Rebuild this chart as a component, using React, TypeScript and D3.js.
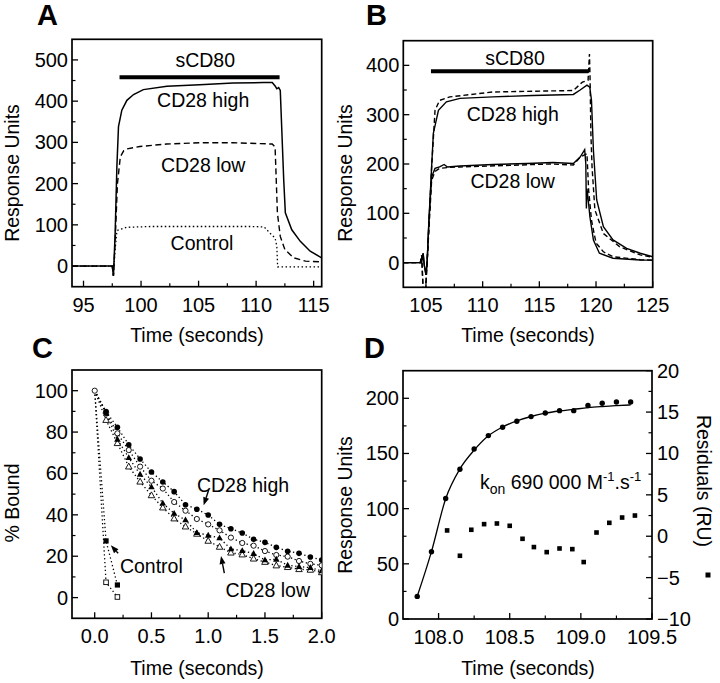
import React from 'react';
import * as d3 from 'd3';

const FONT = '"Liberation Sans", Arial, Helvetica, sans-serif';

// ---------- Panel A ----------
const A_HIGH_T = [94, 97.5, 97.6, 97.75, 97.9, 98.04, 98.33, 98.77, 99.35, 100.2, 102.25, 105.1, 108, 110.65, 111.4, 111.67, 111.8, 111.96, 112.1, 112.4, 112.54, 113.1, 113.84, 114.7, 115.7];
const A_HIGH_V = [0, 0, -24, 80, 241, 338, 378, 402, 416, 428, 436, 440, 444, 445, 445, 436, 430, 433, 426, 209, 129, 88, 60, 36, 20];
const A_LOW_T = [94, 97.5, 97.6, 97.75, 97.95, 98.2, 98.5, 98.77, 99.9, 102.2, 105.1, 108, 110.4, 111.4, 111.65, 111.75, 111.85, 112.1, 112.5, 113.26, 114.3, 115.7];
const A_LOW_V = [0, 0, -24, 60, 200, 265, 280, 284, 290, 296, 299, 299, 297, 296, 289, 209, 129, 72, 40, 20, 12, 10];
const A_CTRL_T = [94, 97.5, 97.6, 97.75, 97.9, 98.04, 98.77, 100.8, 105.1, 109.5, 110.7, 111.2, 111.65, 111.8, 111.87, 115.7];
const A_CTRL_V = [0, 0, -24, 40, 85, 88, 94, 96, 96, 96, 95, 80, 68, 48, -2, -2];
const A_BAR = [98.13, 112.04];
const A_BAR_LEVEL = 458;
const A_X_TICKS = [95, 100, 105, 110, 115];
const A_X_MINOR = [97.5, 102.5, 107.5, 112.5];
const A_Y_TICKS = [0, 100, 200, 300, 400, 500];
const A_Y_MINOR = [50, 150, 250, 350, 450];

// ---------- Panel B ----------
const B_HIGH_S_T = [103, 104.6, 104.75, 104.85, 105.0, 105.1, 105.25, 105.35, 105.65, 106.1, 106.8, 108, 110.9, 114.4, 118, 118.6, 119.2, 119.45, 119.6, 119.77, 120.06, 120.65, 121.5, 122.7, 123.9, 125];
const B_HIGH_S_V = [0, 0, 19, -5, -25, 0, 80, 127, 262, 309, 326, 333, 336, 339, 341, 350, 360, 356, 329, 228, 127, 73, 46, 29, 19, 12];
const B_HIGH_D_T = [103, 104.5, 104.62, 104.75, 104.95, 105.1, 105.5, 105.8, 106.2, 107.1, 110.9, 118, 118.8, 119.3, 119.42, 119.47, 119.55, 119.65, 119.9, 120.65, 122.1, 123.9, 125];
const B_HIGH_D_V = [0, 0, 15, -55, -60, 0, 194, 309, 329, 336, 346, 349, 366, 370, 423, 380, 260, 194, 107, 59, 32, 15.6, 11];
const B_LOW_S_T = [103, 104.6, 104.75, 104.85, 105.0, 105.1, 105.25, 105.5, 105.8, 106.2, 106.6, 106.9, 108, 110.9, 113.9, 116.2, 118, 118.6, 119.0, 119.1, 119.15, 119.2, 119.3, 119.46, 119.77, 120.3, 121.5, 123.9, 125];
const B_LOW_S_V = [0, 0, 19, -5, -25, 0, 80, 174, 191, 194, 199, 194, 196, 199, 201, 203, 201, 214, 229, 200, 110, 150, 130, 93, 46, 19, 9, 5.5, 5];
const B_LOW_D_T = [103, 104.5, 104.62, 104.75, 104.95, 105.1, 105.5, 105.8, 106.2, 107, 108, 112, 116, 118, 118.6, 119.2, 119.35, 119.6, 120.0, 120.65, 121.5, 123.9, 125];
const B_LOW_D_V = [0, 0, 15, -55, -60, 0, 167, 185, 191, 193, 194, 197, 200, 198, 214, 221, 147, 86, 40, 22, 12, 6, 5];
const B_BAR = [105.44, 119.33];
const B_BAR_LEVEL = 388;
const B_X_TICKS = [105, 110, 115, 120, 125];
const B_X_MINOR = [107.5, 112.5, 117.5, 122.5];
const B_Y_TICKS = [0, 100, 200, 300, 400];
const B_Y_MINOR = [50, 150, 250, 350];

// ---------- Panel C ----------
const C_T = [0, 0.1, 0.2, 0.3, 0.4, 0.5, 0.6, 0.7, 0.8, 0.9, 1.0, 1.1, 1.2, 1.3, 1.4, 1.5, 1.6, 1.7, 1.8, 1.9, 2.0];
const C_HIGH_FILLED = [100, 89.9, 82.3, 73.9, 67.0, 60.7, 55.9, 51.2, 44.9, 42.7, 39.9, 35.4, 33.3, 31.2, 28.2, 26.7, 24.3, 22.4, 21.4, 19.6, 18.2];
const C_HIGH_OPEN = [100, 89.4, 79.4, 71.3, 63.3, 56.5, 52.7, 46.2, 42.0, 38.0, 35.4, 32.5, 29.0, 26.4, 25.1, 22.5, 20.6, 19.8, 17.7, 16.3, 15.6];
const C_LOW_FILLED = [100, 89.0, 76.5, 67.6, 59.6, 53.5, 45.6, 40.7, 37.5, 31.4, 30.1, 28.8, 23.5, 22.7, 21.3, 18.2, 18.5, 15.6, 15.0, 14.5, 12.9];
const C_LOW_OPEN = [100, 85.8, 74.6, 63.3, 56.0, 49.4, 43.5, 38.2, 34.3, 30.8, 27.4, 24.5, 21.7, 20.8, 18.8, 17.2, 15.5, 14.7, 13.7, 13.4, 12.2];
const C_CTRL_T = [0, 0.1, 0.2];
const C_CTRL_FILLED = [100, 27.4, 6.1];
const C_CTRL_OPEN = [100, 7.4, 0.3];
const C_X_TICKS = [0, 0.5, 1.0, 1.5, 2.0];
const C_X_MINOR = [0.25, 0.75, 1.25, 1.75];
const C_Y_TICKS = [0, 20, 40, 60, 80, 100];
const C_Y_MINOR = [10, 30, 50, 70, 90];

// ---------- Panel D ----------
const D_T = [107.85, 107.95, 108.05, 108.15, 108.25, 108.35, 108.45, 108.55, 108.65, 108.75, 108.85, 108.95, 109.05, 109.15, 109.25, 109.35];
const D_RU = [20.5, 60.9, 109.2, 135.7, 154.1, 166.2, 173.8, 179.2, 183.4, 186.7, 188.8, 188.8, 193.4, 195.5, 196.7, 196.7];
const D_FIT = [20.5, 61, 109, 136, 153, 166, 174, 179.5, 183.5, 186.5, 188.5, 190, 191.5, 192.5, 193.3, 194];
const D_RES_T = [108.06, 108.15, 108.23, 108.32, 108.41, 108.50, 108.59, 108.67, 108.76, 108.85, 108.94, 109.02, 109.11, 109.20, 109.29, 109.38];
const D_RES = [0.7, -2.36, 0.78, 1.46, 1.54, 1.26, -0.31, -1.31, -1.92, -1.48, -1.56, -3.12, 0.45, 1.62, 2.26, 2.5];
const D_X_TICKS = [108.0, 108.5, 109.0, 109.5];
const D_X_MINOR = [108.25, 108.75, 109.25];
const D_Y_TICKS = [0, 50, 100, 150, 200];
const D_Y_MINOR = [25, 75, 125, 175];
const D_R_TICKS = [-10, -5, 0, 5, 10, 15, 20];
const D_R_MINOR = [-7.5, -2.5, 2.5, 7.5, 12.5, 17.5];

const TICK_FS = 20;
const LABEL_FS = 19.5;

type Sc = d3.ScaleLinear<number, number>;

function Frame({ x, y, xt, xm, yt, ym, xf, yf, clipId }: { x: Sc; y: Sc; xt: number[]; xm: number[]; yt: number[]; ym: number[]; xf: (v: number) => string; yf: (v: number) => string; clipId: string }) {
  const [x0, x1] = x.range();
  const [y1, y0] = y.range();
  return (
    <g>
      <clipPath id={clipId}>
        <rect x={x0} y={y0} width={x1 - x0} height={y1 - y0} />
      </clipPath>
      <rect x={x0} y={y0} width={x1 - x0} height={y1 - y0} fill="none" stroke="#000" strokeWidth={1.7} />
      {xt.map((v) => (
        <g key={'xt' + v}>
          <line x1={x(v)} x2={x(v)} y1={y1} y2={y1 - 6} stroke="#000" strokeWidth={1.3} />
          <text x={x(v)} y={y1 + 25} textAnchor="middle" fontSize={TICK_FS}>{xf(v)}</text>
        </g>
      ))}
      {xm.map((v) => (
        <line key={'xm' + v} x1={x(v)} x2={x(v)} y1={y1} y2={y1 - 3.5} stroke="#000" strokeWidth={1.2} />
      ))}
      {yt.map((v) => (
        <g key={'yt' + v}>
          <line x1={x0} x2={x0 + 6} y1={y(v)} y2={y(v)} stroke="#000" strokeWidth={1.3} />
          <text x={x0 - 4} y={y(v) + 7} textAnchor="end" fontSize={TICK_FS}>{yf(v)}</text>
        </g>
      ))}
      {ym.map((v) => (
        <line key={'ym' + v} x1={x0} x2={x0 + 3.5} y1={y(v)} y2={y(v)} stroke="#000" strokeWidth={1.2} />
      ))}
    </g>
  );
}

function linePath(x: Sc, y: Sc, ts: number[], vs: number[], curve: d3.CurveFactory = d3.curveLinear) {
  const pts: [number, number][] = ts.map((t, i) => [t, vs[i]]);
  return d3.line<[number, number]>().x((d) => x(d[0])).y((d) => y(d[1])).curve(curve)(pts) || '';
}

function RotLabel({ cx, cy, text, angle }: { cx: number; cy: number; text: string; angle: number }) {
  return (
    <text transform={`translate(${cx},${cy}) rotate(${angle})`} textAnchor="middle" dy="0.36em" fontSize={LABEL_FS}>{text}</text>
  );
}

function Arrow({ x1, y1, x2, y2 }: { x1: number; y1: number; x2: number; y2: number }) {
  const a = Math.atan2(y2 - y1, x2 - x1);
  const L = 8, W = 3;
  const bx = x2 - L * Math.cos(a), by = y2 - L * Math.sin(a);
  const p1 = [bx + W * Math.sin(a), by - W * Math.cos(a)];
  const p2 = [bx - W * Math.sin(a), by + W * Math.cos(a)];
  return (
    <g>
      <line x1={x1} y1={y1} x2={bx} y2={by} stroke="#000" strokeWidth={1.4} />
      <path d={`M${x2},${y2}L${p1[0]},${p1[1]}L${p2[0]},${p2[1]}Z`} fill="#000" />
    </g>
  );
}

function tri(cx: number, cy: number, s: number) {
  const h = s * 0.9;
  return `M${cx},${cy - h * 0.6}L${cx + s / 2},${cy + h * 0.4}L${cx - s / 2},${cy + h * 0.4}Z`;
}

export default function App() {
  // Panel A
  const ax = d3.scaleLinear().domain([94, 115.7]).range([72, 321.7]);
  const ay = d3.scaleLinear().domain([-50, 550]).range([286.7, 39.3]);
  // Panel B
  const bx = d3.scaleLinear().domain([103, 125]).range([403.3, 652.7]);
  const by = d3.scaleLinear().domain([-50, 450]).range([287.3, 40.7]);
  // Panel C
  const cx = d3.scaleLinear().domain([-0.2, 2.0]).range([72, 321.7]);
  const cy = d3.scaleLinear().domain([-10, 110]).range([618.3, 370]);
  // Panel D
  const dx = d3.scaleLinear().domain([107.75, 109.5]).range([403, 652]);
  const dy = d3.scaleLinear().domain([0, 225]).range([619, 370.7]);
  const dr = d3.scaleLinear().domain([-10, 20]).range([619, 370.7]);

  const f0 = (v: number) => d3.format('d')(v);
  const f1 = (v: number) => d3.format('.1f')(v);

  const dotted = { fill: 'none', stroke: '#000', strokeWidth: 1.3, strokeDasharray: '1.3,2.6' };

  return (
    <svg width={720} height={683} style={{ position: 'absolute', left: 0, top: 0, background: '#fff' }} fontFamily={FONT}>
      <rect x={0} y={0} width={720} height={683} fill="#fff" />

      {/* ---------- Panel A ---------- */}
      <text x={37} y={25} fontSize={29} fontWeight="bold">A</text>
      <Frame x={ax} y={ay} xt={A_X_TICKS} xm={A_X_MINOR} yt={A_Y_TICKS} ym={A_Y_MINOR} xf={f0} yf={f0} clipId="clipA" />
      <g clipPath="url(#clipA)">
        <path d={linePath(ax, ay, A_CTRL_T, A_CTRL_V)} fill="none" stroke="#000" strokeWidth={1.3} strokeDasharray="1.5,2.5" />
        <path d={linePath(ax, ay, A_LOW_T, A_LOW_V)} fill="none" stroke="#000" strokeWidth={1.4} strokeDasharray="6,3.5" />
        <path d={linePath(ax, ay, A_HIGH_T, A_HIGH_V)} fill="none" stroke="#000" strokeWidth={1.5} />
      </g>
      <line x1={ax(A_BAR[0])} x2={ax(A_BAR[1])} y1={ay(A_BAR_LEVEL)} y2={ay(A_BAR_LEVEL)} stroke="#000" strokeWidth={4} />
      <text x={ax(105.58)} y={ay(482)} textAnchor="middle" fontSize={LABEL_FS}>sCD80</text>
      <text x={ax(105.4)} y={ay(386)} textAnchor="middle" fontSize={LABEL_FS}>CD28 high</text>
      <text x={ax(105.4)} y={ay(229)} textAnchor="middle" fontSize={LABEL_FS}>CD28 low</text>
      <text x={ax(105.3)} y={ay(40)} textAnchor="middle" fontSize={LABEL_FS}>Control</text>
      <RotLabel cx={12} cy={173} text="Response Units" angle={-90} />
      <text x={197} y={342} textAnchor="middle" fontSize={LABEL_FS}>Time (seconds)</text>

      {/* ---------- Panel B ---------- */}
      <text x={366} y={25} fontSize={29} fontWeight="bold">B</text>
      <Frame x={bx} y={by} xt={B_X_TICKS} xm={B_X_MINOR} yt={B_Y_TICKS} ym={B_Y_MINOR} xf={f0} yf={f0} clipId="clipB" />
      <g clipPath="url(#clipB)">
        <path d={linePath(bx, by, B_HIGH_D_T, B_HIGH_D_V)} fill="none" stroke="#000" strokeWidth={1.4} strokeDasharray="5,3" />
        <path d={linePath(bx, by, B_LOW_D_T, B_LOW_D_V)} fill="none" stroke="#000" strokeWidth={1.4} strokeDasharray="5,3" />
        <path d={linePath(bx, by, B_HIGH_S_T, B_HIGH_S_V)} fill="none" stroke="#000" strokeWidth={1.4} />
        <path d={linePath(bx, by, B_LOW_S_T, B_LOW_S_V)} fill="none" stroke="#000" strokeWidth={1.4} />
      </g>
      <line x1={bx(B_BAR[0])} x2={bx(B_BAR[1])} y1={by(B_BAR_LEVEL)} y2={by(B_BAR_LEVEL)} stroke="#000" strokeWidth={4} />
      <text x={bx(112.85)} y={by(400)} textAnchor="middle" fontSize={LABEL_FS}>sCD80</text>
      <text x={bx(112.65)} y={by(287)} textAnchor="middle" fontSize={LABEL_FS}>CD28 high</text>
      <text x={bx(112.65)} y={by(150.5)} textAnchor="middle" fontSize={LABEL_FS}>CD28 low</text>
      <RotLabel cx={345} cy={173} text="Response Units" angle={-90} />
      <text x={528} y={342} textAnchor="middle" fontSize={LABEL_FS}>Time (seconds)</text>

      {/* ---------- Panel C ---------- */}
      <text x={32} y={358} fontSize={29} fontWeight="bold">C</text>
      <Frame x={cx} y={cy} xt={C_X_TICKS} xm={C_X_MINOR} yt={C_Y_TICKS} ym={C_Y_MINOR} xf={f1} yf={f0} clipId="clipC" />
      <g clipPath="url(#clipC)">
        <path d={linePath(cx, cy, C_CTRL_T, C_CTRL_FILLED)} {...dotted} />
        <path d={linePath(cx, cy, C_CTRL_T, C_CTRL_OPEN)} {...dotted} />
        <path d={linePath(cx, cy, C_T, C_HIGH_FILLED)} {...dotted} />
        <path d={linePath(cx, cy, C_T, C_HIGH_OPEN)} {...dotted} />
        <path d={linePath(cx, cy, C_T, C_LOW_FILLED)} {...dotted} />
        <path d={linePath(cx, cy, C_T, C_LOW_OPEN)} {...dotted} />
        {C_T.slice(1).map((t, i) => (
          <path key={'lo' + i} d={tri(cx(t), cy(C_LOW_OPEN[i + 1]), 6.5)} fill="#fff" stroke="#000" strokeWidth={0.9} />
        ))}
        {C_T.slice(1).map((t, i) => (
          <circle key={'ho' + i} cx={cx(t)} cy={cy(C_HIGH_OPEN[i + 1])} r={2.6} fill="#fff" stroke="#000" strokeWidth={0.9} />
        ))}
        {C_T.slice(1).map((t, i) => (
          <path key={'lf' + i} d={tri(cx(t), cy(C_LOW_FILLED[i + 1]), 6.5)} fill="#000" />
        ))}
        {C_T.slice(1).map((t, i) => (
          <circle key={'hf' + i} cx={cx(t)} cy={cy(C_HIGH_FILLED[i + 1])} r={2.8} fill="#000" />
        ))}
        {C_CTRL_T.slice(1).map((t, i) => (
          <rect key={'co' + i} x={cx(t) - 2.3} y={cy(C_CTRL_OPEN[i + 1]) - 2.3} width={4.6} height={4.6} fill="#fff" stroke="#000" strokeWidth={0.9} />
        ))}
        {C_CTRL_T.slice(1).map((t, i) => (
          <rect key={'cf' + i} x={cx(t) - 2.6} y={cy(C_CTRL_FILLED[i + 1]) - 2.6} width={5.2} height={5.2} fill="#000" />
        ))}
        <circle cx={cx(0)} cy={cy(100)} r={2.6} fill="#fff" stroke="#000" strokeWidth={0.9} />
      </g>
      <text x={cx(0.901)} y={cy(51.2)} fontSize={LABEL_FS}>CD28 high</text>
      <Arrow x1={cx(1.004)} y1={cy(52)} x2={cx(0.96)} y2={cy(44.6)} />
      <text x={cx(0.222)} y={cy(11.8)} fontSize={LABEL_FS}>Control</text>
      <Arrow x1={cx(0.207)} y1={cy(21.4)} x2={cx(0.142)} y2={cy(25.3)} />
      <text x={cx(1.152)} y={cy(0.5)} fontSize={LABEL_FS}>CD28 low</text>
      <Arrow x1={cx(1.142)} y1={cy(11.8)} x2={cx(1.113)} y2={cy(20.1)} />
      <RotLabel cx={12} cy={503} text="% Bound" angle={-90} />
      <text x={197} y={675} textAnchor="middle" fontSize={LABEL_FS}>Time (seconds)</text>

      {/* ---------- Panel D ---------- */}
      <text x={364} y={358} fontSize={29} fontWeight="bold">D</text>
      <Frame x={dx} y={dy} xt={D_X_TICKS} xm={D_X_MINOR} yt={D_Y_TICKS} ym={D_Y_MINOR} xf={f1} yf={f0} clipId="clipD" />
      {D_R_TICKS.map((v) => (
        <g key={'rt' + v}>
          <line x1={652} x2={646} y1={dr(v)} y2={dr(v)} stroke="#000" strokeWidth={1.3} />
          <text x={657} y={dr(v) + 7} textAnchor="start" fontSize={TICK_FS}>{f0(v)}</text>
        </g>
      ))}
      {D_R_MINOR.map((v) => (
        <line key={'rm' + v} x1={652} x2={648.5} y1={dr(v)} y2={dr(v)} stroke="#000" strokeWidth={1.2} />
      ))}
      <g clipPath="url(#clipD)">
        <path d={linePath(dx, dy, D_T, D_FIT, d3.curveMonotoneX)} fill="none" stroke="#000" strokeWidth={1.3} />
        {D_T.map((t, i) => (
          <circle key={'dc' + i} cx={dx(t)} cy={dy(D_RU[i])} r={2.7} fill="#000" />
        ))}
        {D_RES_T.map((t, i) => (
          <rect key={'dr' + i} x={dx(t) - 2.3} y={dr(D_RES[i]) - 2.3} width={4.6} height={4.6} fill="#000" />
        ))}
      </g>
      <text x={480} y={489} fontSize={LABEL_FS}>
        <tspan>k</tspan>
        <tspan fontSize={14} dy={5}>on</tspan>
        <tspan dy={-5}> 690 000 M</tspan>
        <tspan fontSize={13} dy={-8}>-1</tspan>
        <tspan dy={8}>.s</tspan>
        <tspan fontSize={13} dy={-8}>-1</tspan>
      </text>
      <RotLabel cx={345} cy={505} text="Response Units" angle={-90} />
      <RotLabel cx={704} cy={481} text="Residuals (RU)" angle={90} />
      <rect x={705.5} y={572.5} width={5} height={5} fill="#000" />
      <text x={528} y={675} textAnchor="middle" fontSize={LABEL_FS}>Time (seconds)</text>
    </svg>
  );
}
